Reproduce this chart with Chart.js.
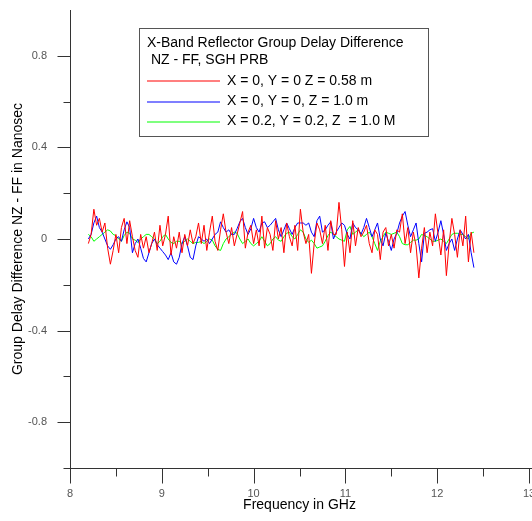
<!DOCTYPE html>
<html>
<head>
<meta charset="utf-8">
<script src="https://cdn.jsdelivr.net/npm/chart.js@4/dist/chart.umd.min.js"></script>
<style>
html,body{margin:0;padding:0;background:#fff;}
#wrap{width:532px;height:521px;position:relative;}
</style>
</head>
<body>
<div id="wrap"><canvas id="c" width="532" height="521"></canvas></div>
<script>
// ---- data ----
const freqGHz = [8.20,8.23,8.26,8.29,8.32,8.35,8.38,8.41,8.44,8.47,8.50,8.53,8.56,8.59,8.62,8.65,8.68,8.71,8.74,8.77,
8.80,8.83,8.86,8.89,8.92,8.95,8.98,9.01,9.04,9.07,9.10,9.13,9.16,9.19,9.22,9.25,9.28,9.31,9.34,9.37,
9.40,9.43,9.46,9.49,9.52,9.55,9.58,9.61,9.64,9.67,9.70,9.73,9.76,9.79,9.82,9.85,9.88,9.91,9.94,9.97,
10.00,10.03,10.06,10.09,10.12,10.15,10.18,10.21,10.24,10.27,10.30,10.33,10.36,10.39,10.42,10.45,10.48,10.51,10.54,10.57,
10.60,10.63,10.66,10.69,10.72,10.75,10.78,10.81,10.84,10.87,10.90,10.93,10.96,10.99,11.02,11.05,11.08,11.11,11.14,11.17,
11.20,11.23,11.26,11.29,11.32,11.35,11.38,11.41,11.44,11.47,11.50,11.53,11.56,11.59,11.62,11.65,11.68,11.71,11.74,11.77,
11.80,11.83,11.86,11.89,11.92,11.95,11.98,12.01,12.04,12.07,12.10,12.13,12.16,12.19,12.22,12.25,12.28,12.31,12.34,12.37,12.40];

const seriesRed = [-0.02,0.02,0.13,0.06,0.09,0.03,0.07,-0.04,-0.11,-0.05,
0.02,-0.06,0.05,0.09,-0.02,0.08,0.01,-0.05,-0.08,0.02,
-0.04,0.01,-0.06,-0.02,0.03,-0.05,0.06,-0.03,0.02,0.10,
-0.07,0.01,-0.04,0.03,-0.06,0.02,-0.03,0.04,-0.02,0.01,
0.07,-0.02,0.06,-0.05,0.03,0.10,-0.01,-0.05,0.04,0.11,
0.03,-0.02,0.05,-0.03,0.02,0.07,0.12,-0.04,0.03,0.06,
-0.02,0.04,-0.03,0.10,-0.04,0.05,0.02,-0.05,0.08,0.00,
0.05,-0.06,0.07,0.01,-0.03,0.06,-0.05,0.13,0.03,-0.02,
0.02,-0.15,-0.02,0.07,0.04,-0.02,0.06,-0.05,0.08,0.02,
0.02,0.16,0.04,-0.12,0.03,-0.06,0.08,-0.03,0.05,0.01,
0.03,0.06,-0.02,-0.06,0.04,0.02,-0.09,0.03,0.05,-0.03,
0.02,-0.04,0.04,0.03,0.11,-0.02,0.05,-0.06,0.03,-0.03,
-0.17,-0.04,0.05,-0.06,0.03,-0.03,0.11,0.02,-0.07,0.04,
-0.16,-0.02,0.09,0.02,-0.08,0.04,-0.03,0.10,-0.10,0.03,-0.06];

const seriesBlue = [0.00,0.02,0.07,0.10,0.05,0.03,0.00,-0.03,-0.045,-0.025,
0.00,0.01,-0.01,0.04,0.075,0.05,-0.06,-0.02,0.00,-0.04,
-0.085,-0.10,-0.06,-0.02,0.00,-0.025,-0.04,-0.055,-0.07,-0.09,
-0.06,-0.10,-0.11,-0.08,-0.02,0.01,-0.03,-0.08,-0.09,-0.03,
0.01,0.00,-0.01,0.00,-0.02,0.00,0.02,0.03,0.075,0.05,
0.03,0.04,0.02,0.02,0.045,0.075,0.09,0.05,0.02,0.045,
0.09,0.05,0.03,0.07,0.075,0.05,0.06,0.075,0.09,0.04,
0.01,0.04,0.07,0.045,0.02,0.05,0.07,0.07,0.07,0.06,
0.07,0.03,0.01,0.08,0.10,0.03,0.04,0.06,0.075,0.00,
0.03,0.05,0.07,0.06,0.02,0.00,0.07,0.05,0.04,0.02,
0.05,0.09,0.05,0.01,0.04,0.07,0.00,-0.03,0.025,-0.01,
-0.05,0.00,0.025,0.07,0.10,0.12,0.06,0.01,0.04,0.07,
-0.02,-0.10,0.025,0.03,0.04,0.045,-0.01,0.03,0.08,0.02,
-0.05,-0.02,0.00,-0.05,0.00,0.04,0.02,0.00,0.02,-0.06,-0.125];

const seriesGreen = [0.02,0.01,-0.01,0.00,0.01,0.02,0.03,0.04,0.035,0.02,
0.015,0.00,-0.01,0.015,0.03,0.025,0.00,-0.005,-0.015,0.00,
0.01,0.02,0.02,0.01,0.00,-0.02,-0.01,0.01,0.02,0.00,
-0.015,-0.02,-0.01,-0.01,-0.02,-0.01,0.00,-0.01,-0.02,-0.015,
-0.015,-0.01,-0.02,-0.01,0.00,-0.005,-0.03,-0.045,-0.05,-0.02,
0.00,0.01,0.02,0.03,0.025,0.00,-0.02,-0.01,0.00,-0.02,
-0.03,-0.02,-0.01,0.01,-0.01,-0.03,-0.02,0.00,0.01,-0.005,
-0.01,0.01,0.025,0.03,0.01,0.00,0.02,0.04,0.03,0.00,
-0.015,-0.005,-0.02,-0.04,-0.035,-0.03,-0.01,0.015,0.03,0.02,
0.01,0.00,-0.005,-0.01,0.04,0.055,0.02,0.03,0.04,0.025,
0.01,0.02,0.03,0.01,-0.02,-0.05,-0.01,0.01,0.03,0.025,
0.02,0.025,0.03,0.01,-0.02,-0.025,-0.025,-0.015,-0.005,-0.005,
0.00,0.02,0.015,0.01,0.00,-0.01,-0.01,-0.005,0.00,-0.01,
-0.02,0.00,0.02,0.025,0.025,0.02,0.02,0.01,0.00,0.025,0.03];

const seriesLabels = ['X = 0, Y = 0 Z = 0.58 m', 'X = 0, Y = 0, Z = 1.0 m', 'X = 0.2, Y = 0.2, Z  = 1.0 M'];
const seriesColors = ['#ff0000', '#0000ff', '#00ff00'];
const legendTitle = ['X-Band Reflector Group Delay Difference', ' NZ - FF, SGH PRB'];
const xMajorTicks = [8, 9, 10, 11, 12, 13];
const xMinorTicks = [8.5, 9.5, 10.5, 11.5, 12.5];
const yMajorTicks = [-0.8, -0.4, 0, 0.4, 0.8];
const yMinorTicks = [-0.6, -0.2, 0.2, 0.6];
const xTitle = 'Frequency in GHz';
const yTitle = 'Group Delay Difference NZ - FF in Nanosec';

const FONT = "Arial, 'Liberation Sans', sans-serif";

const allSeries = [seriesRed, seriesBlue, seriesGreen];
const datasets = allSeries.map((vals, k) => ({
  label: seriesLabels[k],
  data: freqGHz.map((f, i) => ({x: f, y: vals[i]})),
  borderColor: seriesColors[k],
  backgroundColor: seriesColors[k],
  borderWidth: 1,
  pointRadius: 0,
  tension: 0,
  fill: false,
  order: k
}));

const decoPlugin = {
  id: 'deco',
  afterDraw(chart) {
    const {ctx, scales: {x, y}} = chart;
    ctx.save();
    ctx.strokeStyle = '#333';
    ctx.lineWidth = 1;
    const ax = Math.round(x.getPixelForValue(8)) + 0.5;
    const ay = Math.round(y.getPixelForValue(-1)) + 0.5;
    const top = Math.round(y.getPixelForValue(1));
    ctx.beginPath();
    ctx.moveTo(ax, top); ctx.lineTo(ax, ay + 5);
    ctx.moveTo(ax - 7, ay); ctx.lineTo(chart.width, ay);
    yMajorTicks.forEach(v => { const p = Math.round(y.getPixelForValue(v)) + 0.5; ctx.moveTo(ax - 13, p); ctx.lineTo(ax, p); });
    yMinorTicks.forEach(v => { const p = Math.round(y.getPixelForValue(v)) + 0.5; ctx.moveTo(ax - 7, p); ctx.lineTo(ax, p); });
    xMajorTicks.forEach(v => { const p = Math.round(x.getPixelForValue(v)) + 0.5; ctx.moveTo(p, ay); ctx.lineTo(p, ay + 15); });
    xMinorTicks.forEach(v => { const p = Math.round(x.getPixelForValue(v)) + 0.5; ctx.moveTo(p, ay); ctx.lineTo(p, ay + 8); });
    ctx.stroke();

    // legend box
    const bx = 139.5, by = 28.5, bw = 289, bh = 108;
    ctx.fillStyle = '#fff';
    ctx.fillRect(bx, by, bw, bh);
    ctx.strokeStyle = '#555';
    ctx.strokeRect(bx, by, bw, bh);
    ctx.font = '14px ' + FONT;
    ctx.textBaseline = 'middle';
    ctx.textAlign = 'left';
    ctx.fillStyle = '#000';
    ctx.fillText(legendTitle[0], 147, 43);
    ctx.fillText(legendTitle[1], 147, 60);
    const rows = [81, 101.5, 121.5];
    seriesLabels.forEach((lab, k) => {
      ctx.beginPath();
      ctx.strokeStyle = seriesColors[k];
      ctx.lineWidth = 1.2;
      ctx.moveTo(147, Math.round(rows[k]));
      ctx.lineTo(220, Math.round(rows[k]));
      ctx.stroke();
      ctx.fillStyle = '#000';
      ctx.fillText(lab, 227, rows[k]);
    });
    ctx.restore();
  }
};

new Chart(document.getElementById('c'), {
  type: 'line',
  data: { datasets },
  options: {
    responsive: false,
    animation: false,
    layout: { padding: { top: 10, right: 3, left: 0, bottom: 0 } },
    plugins: { legend: { display: false }, tooltip: { enabled: false } },
    scales: {
      x: {
        type: 'linear', min: 8, max: 13,
        grid: { display: false, drawTicks: false },
        border: { display: false },
        afterBuildTicks: s => { s.ticks = xMajorTicks.map(v => ({value: v})); },
        afterFit: s => { s.height = 53; s.paddingLeft = 0; s.paddingRight = 0; },
        ticks: { padding: 19, maxRotation: 0, autoSkip: false, color: '#555', font: { family: FONT, size: 11 }, callback: v => String(v) },
        title: { display: true, text: xTitle, color: '#000', font: { family: FONT, size: 14 }, padding: { top: 0, bottom: 7 } }
      },
      y: {
        type: 'linear', min: -1, max: 1,
        grid: { display: false, drawTicks: false },
        border: { display: false },
        afterBuildTicks: s => { s.ticks = yMajorTicks.map(v => ({value: v})); },
        afterFit: s => { s.width = 70; s.paddingTop = 0; s.paddingBottom = 0; },
        ticks: { padding: 23, autoSkip: false, color: '#555', font: { family: FONT, size: 11 }, callback: v => String(v) },
        title: { display: true, text: yTitle, color: '#000', font: { family: FONT, size: 14 }, padding: { top: 10, bottom: 0 } }
      }
    }
  },
  plugins: [decoPlugin]
});
</script>
</body>
</html>
